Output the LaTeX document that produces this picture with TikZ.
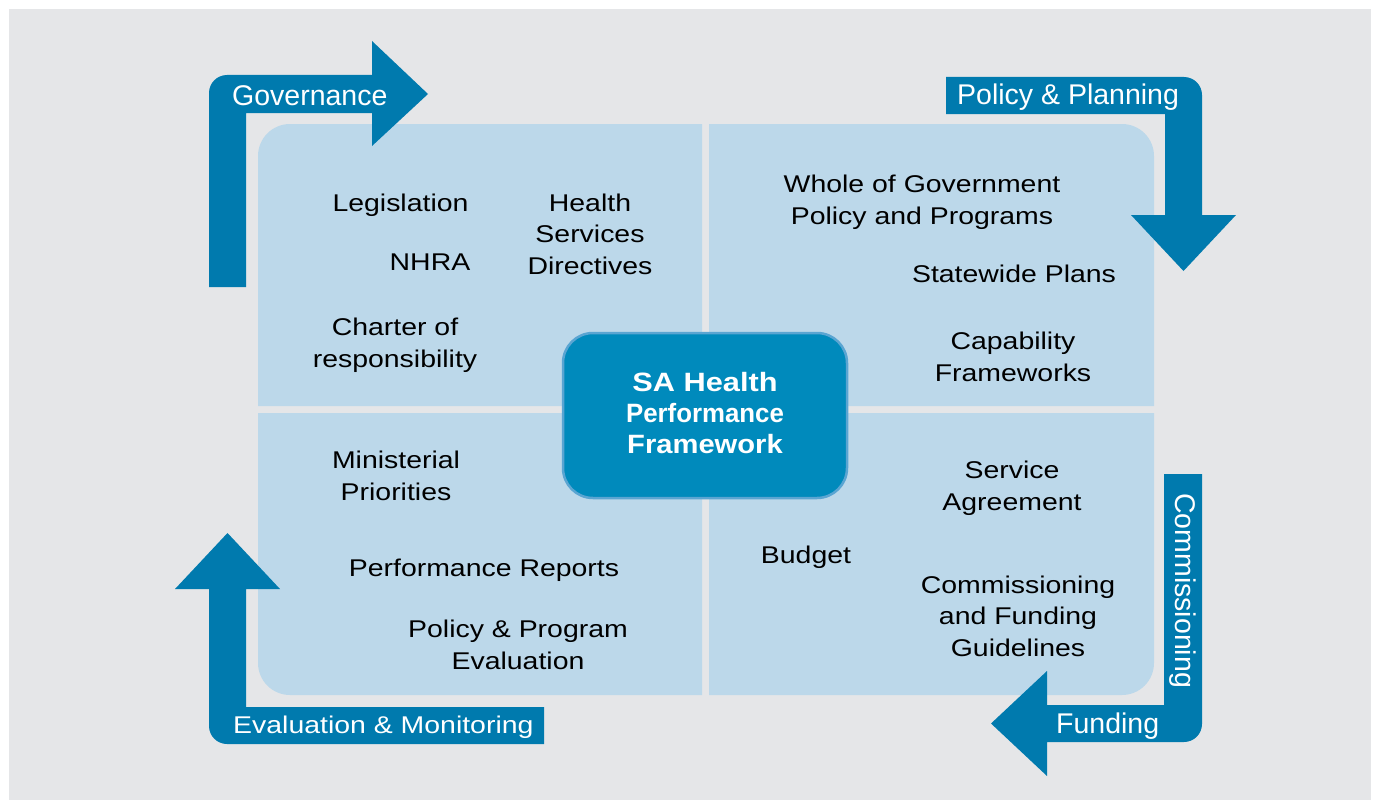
\documentclass[tikz,border=0pt]{standalone}
\usepackage{fontspec}
\setmainfont{Liberation Sans}
\newfontfamily\wideface{Liberation Sans}[FakeStretch=1.175]
\usepackage{graphicx}
\definecolor{bggrey}{RGB}{229,230,232}
\definecolor{quadblue}{RGB}{188,216,234}
\definecolor{arrowblue}{RGB}{0,122,174}
\definecolor{coreblue}{RGB}{0,138,188}
\definecolor{coreedge}{RGB}{90,165,210}
\begin{document}
\begin{tikzpicture}[x=1pt,y=-1pt,
  quad/.style={fill=quadblue},
  bigarrow/.style={fill=arrowblue},
  qtext/.style={font=\wideface\fontsize{24.2}{31.5}\selectfont, align=center, inner sep=0pt, anchor=base, text=black},
  alabel/.style={font=\fontsize{28.5}{30}\selectfont, text=white, inner sep=0pt},
  wlabel/.style={font=\wideface\fontsize{24.2}{30}\selectfont, text=white, inner sep=0pt},
  corebox/.style={fill=coreblue, draw=coreedge, line width=2.5pt, rounded corners=30pt, minimum width=284pt, minimum height=165pt, inner sep=0pt},
  coretext/.style={font=\bfseries\fontsize{26.5}{31}\selectfont, text=white, align=center, inner sep=0pt, anchor=base}]
\useasboundingbox (0,0) rectangle (1377,800);
\fill[white] (0,0) rectangle (1377,800);
\fill[bggrey] (9,9) rectangle (1371,800);

% quadrants
\fill[quad] (258,406) -- (258,156) arc[start angle=180,end angle=270,radius=32] -- (702,124) -- (702,406) -- cycle;
\fill[quad] (709,124) -- (1122,124) arc[start angle=270,end angle=360,radius=32] -- (1154,406) -- (709,406) -- cycle;
\fill[quad] (258,413) -- (702,413) -- (702,695) -- (290,695) arc[start angle=90,end angle=180,radius=32] -- cycle;
\fill[quad] (709,413) -- (1154,413) -- (1154,663) arc[start angle=0,end angle=90,radius=32] -- (709,695) -- cycle;

% arrows
\fill[bigarrow] (209,287) -- (209,93) arc[start angle=180,end angle=270,radius=18] -- (372,75) -- (372,41) -- (428,94) -- (372,146) -- (372,113) -- (246,113) -- (246,287) -- cycle;
\fill[bigarrow] (946,77) -- (1184,77) arc[start angle=270,end angle=360,radius=18] -- (1202,215) -- (1236,215) -- (1183.5,271) -- (1131,215) -- (1165,215) -- (1165,114) -- (946,114) -- cycle;
\fill[bigarrow] (1164,474) -- (1202,474) -- (1202,724) arc[start angle=0,end angle=90,radius=18] -- (1047,742) -- (1047,776) -- (991,723.5) -- (1047,671) -- (1047,705) -- (1164,705) -- cycle;
\fill[bigarrow] (544,707) -- (544,744) -- (227,744) arc[start angle=90,end angle=180,radius=18] -- (209,589) -- (175,589) -- (227.5,533) -- (280,589) -- (246,589) -- (246,707) -- cycle;

% arrow labels
\node[alabel, anchor=base west] (gov) at (232,106) {Governance};
\node[alabel, anchor=base west] (pol) at (957,105) {Policy \& Planning};
\node[alabel, anchor=base west] (fund) at (1056,733) {Funding};
\node[wlabel, anchor=base west] (eval) at (233,733) {Evaluation \& Monitoring};
\node[alabel, rotate=-90] (comm) at (1183,590.5) {Commissioning};

% centre box
\node[corebox] (core) at (705,415.5) {};
\node[coretext] (coretxt) at (705,453) {\scalebox{1.16}[1]{SA Health}\\\scalebox{0.975}[1]{Performance}\\\scalebox{1.1}[1]{Framework}};

% quadrant texts (anchor = baseline of last line)
\node[qtext] (legis) at (400.5,211) {Legislation};
\node[qtext] (nhra) at (430,270) {NHRA};
\node[qtext] (hsd) at (590,274) {Health\\Services\\Directives};
\node[qtext] (charter) at (395,367) {Charter of\\responsibility};
\node[qtext] (whole) at (922,224) {Whole of Government\\Policy and Programs};
\node[qtext] (state) at (1014,282) {Statewide Plans};
\node[qtext] (capab) at (1013,381) {Capability\\Frameworks};
\node[qtext] (minis) at (396,500) {Ministerial\\Priorities};
\node[qtext] (perf) at (484,576) {Performance Reports};
\node[qtext] (ppe) at (518,669) {Policy \& Program\\Evaluation};
\node[qtext] (serv) at (1012,510) {Service\\Agreement};
\node[qtext] (budget) at (806,563) {Budget};
\node[qtext] (cfg) at (1018,656) {Commissioning\\and Funding\\Guidelines};
\end{tikzpicture}
\end{document}
